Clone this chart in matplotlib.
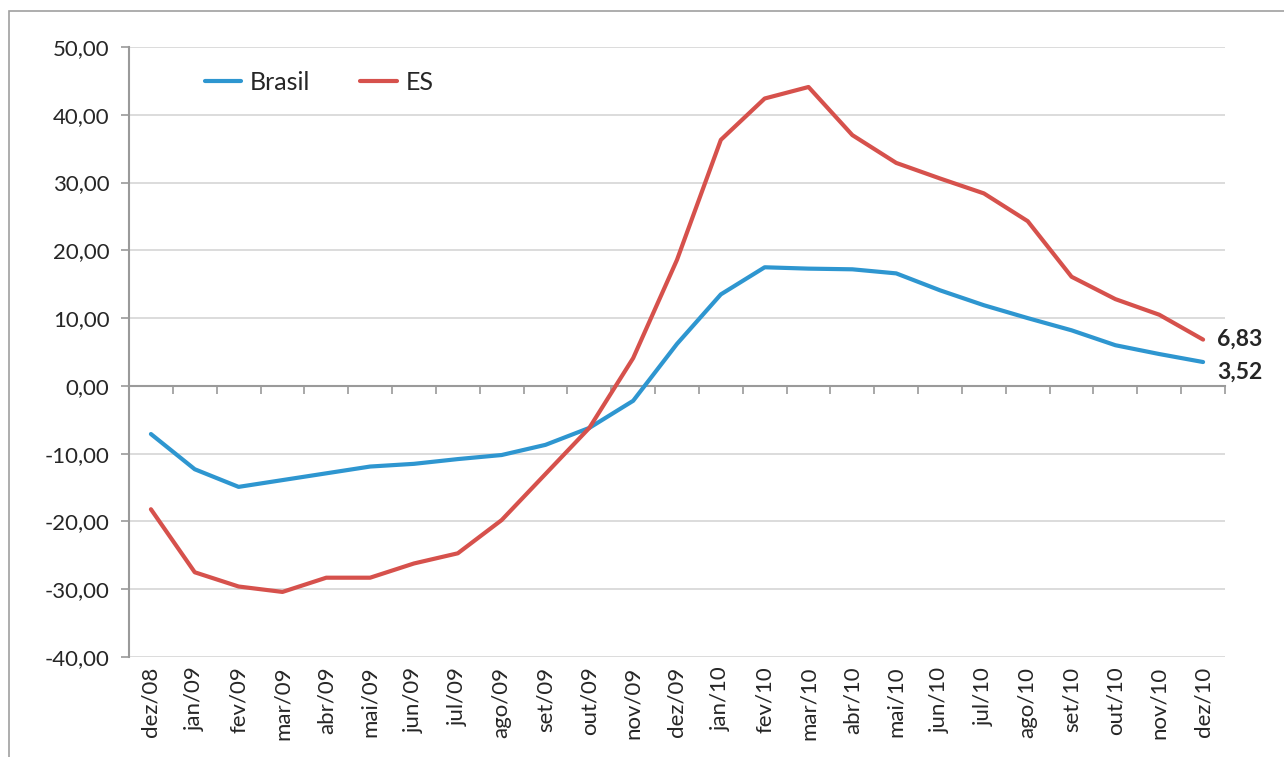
import matplotlib
matplotlib.use("Agg")
import matplotlib.pyplot as plt
from matplotlib.patches import Rectangle
from matplotlib.ticker import FixedLocator, FuncFormatter
import numpy as np

plt.rcParams['font.family'] = ['Lato', 'DejaVu Sans']

months = ["dez/08", "jan/09", "fev/09", "mar/09", "abr/09", "mai/09", "jun/09",
          "jul/09", "ago/09", "set/09", "out/09", "nov/09", "dez/09", "jan/10",
          "fev/10", "mar/10", "abr/10", "mai/10", "jun/10", "jul/10", "ago/10",
          "set/10", "out/10", "nov/10", "dez/10"]

brasil = [-7.1, -12.3, -14.9, -13.9, -12.9, -11.9, -11.5, -10.8, -10.2, -8.7,
          -6.2, -2.2, 6.2, 13.5, 17.5, 17.3, 17.2, 16.6, 14.1, 11.9, 10.0,
          8.2, 6.0, 4.7, 3.52]

es = [-18.2, -27.5, -29.6, -30.4, -28.3, -28.3, -26.2, -24.7, -19.8, -13.0,
      -6.2, 4.1, 18.6, 36.3, 42.4, 44.1, 37.0, 32.9, 30.6, 28.4, 24.3,
      16.1, 12.8, 10.5, 6.83]

y_ticks = [-40, -30, -20, -10, 0, 10, 20, 30, 40, 50]

BLUE = "#2E96D0"
RED = "#D6514C"
TEXT = "#262626"
AXIS = "#9A9A9A"
GRID = "#D9D9D9"

W, H = 1284, 757
fig = plt.figure(figsize=(W / 100, H / 100), dpi=100)

# chart-area frame
fig.patches.append(Rectangle((9 / W, 0 - 0.05), 1.2, (H - 11) / H + 0.05,
                             transform=fig.transFigure, fill=False,
                             edgecolor="#A0A0A0", linewidth=1.2))

ax = fig.add_axes([129 / W, (H - 657) / H, (1225 - 129) / W, (657 - 47) / H])
x = np.arange(len(months))

ax.plot(x, brasil, color=BLUE, lw=3.0, label="Brasil", solid_capstyle="round",
        solid_joinstyle="round", zorder=3)
ax.plot(x, es, color=RED, lw=3.0, label="ES", solid_capstyle="round",
        solid_joinstyle="round", zorder=3)

ax.set_xlim(-0.5, len(months) - 0.5)
ax.set_ylim(-40, 50)

# y axis
ax.set_yticks(y_ticks)
ax.yaxis.set_major_formatter(FuncFormatter(lambda v, p: f"{v:.2f}".replace(".", ",")))
ax.tick_params(axis="y", direction="out", length=6, width=1.2, color=AXIS,
               labelsize=16, labelcolor=TEXT, pad=8)
ax.grid(axis="y", color=GRID, lw=1.3, zorder=0)
ax.set_axisbelow(True)

for s in ("top", "right"):
    ax.spines[s].set_visible(False)
ax.spines["left"].set_color(AXIS)
ax.spines["left"].set_linewidth(1.5)

# horizontal axis line at zero with category separators
ax.spines["bottom"].set_position(("data", 0))
ax.spines["bottom"].set_color(AXIS)
ax.spines["bottom"].set_linewidth(1.5)
ax.set_xticks([])
ax.xaxis.set_minor_locator(FixedLocator(np.arange(-0.5, len(months), 1.0)))
ax.tick_params(axis="x", which="minor", direction="out", length=6, width=1.2,
               color=AXIS)

# month labels along the bottom edge
sec = ax.secondary_xaxis(0.0)
sec.set_xticks(x)
sec.set_xticklabels(months, rotation=90)
sec.tick_params(axis="x", length=0, pad=7, labelsize=16, labelcolor=TEXT)
sec.spines["bottom"].set_visible(False)

# end-of-series value labels
ax.annotate(f"{es[-1]:.2f}".replace(".", ","), (x[-1], es[-1]),
            xytext=(10, 0), textcoords="offset points", va="center", ha="left",
            fontsize=16.5, fontweight="bold", color=TEXT)
ax.annotate(f"{brasil[-1]:.2f}".replace(".", ","), (x[-1], brasil[-1]),
            xytext=(10, -7), textcoords="offset points", va="center", ha="left",
            fontsize=16.5, fontweight="bold", color=TEXT)

ax.legend(loc="center left", bbox_to_anchor=((205 - 129) / 1096, (657 - 82) / 610),
          ncol=2, frameon=False, fontsize=18, handlelength=1.45,
          handletextpad=0.35, columnspacing=2.0, borderaxespad=0, borderpad=0,
          labelcolor=TEXT)

fig.savefig("out.png", dpi=100)
